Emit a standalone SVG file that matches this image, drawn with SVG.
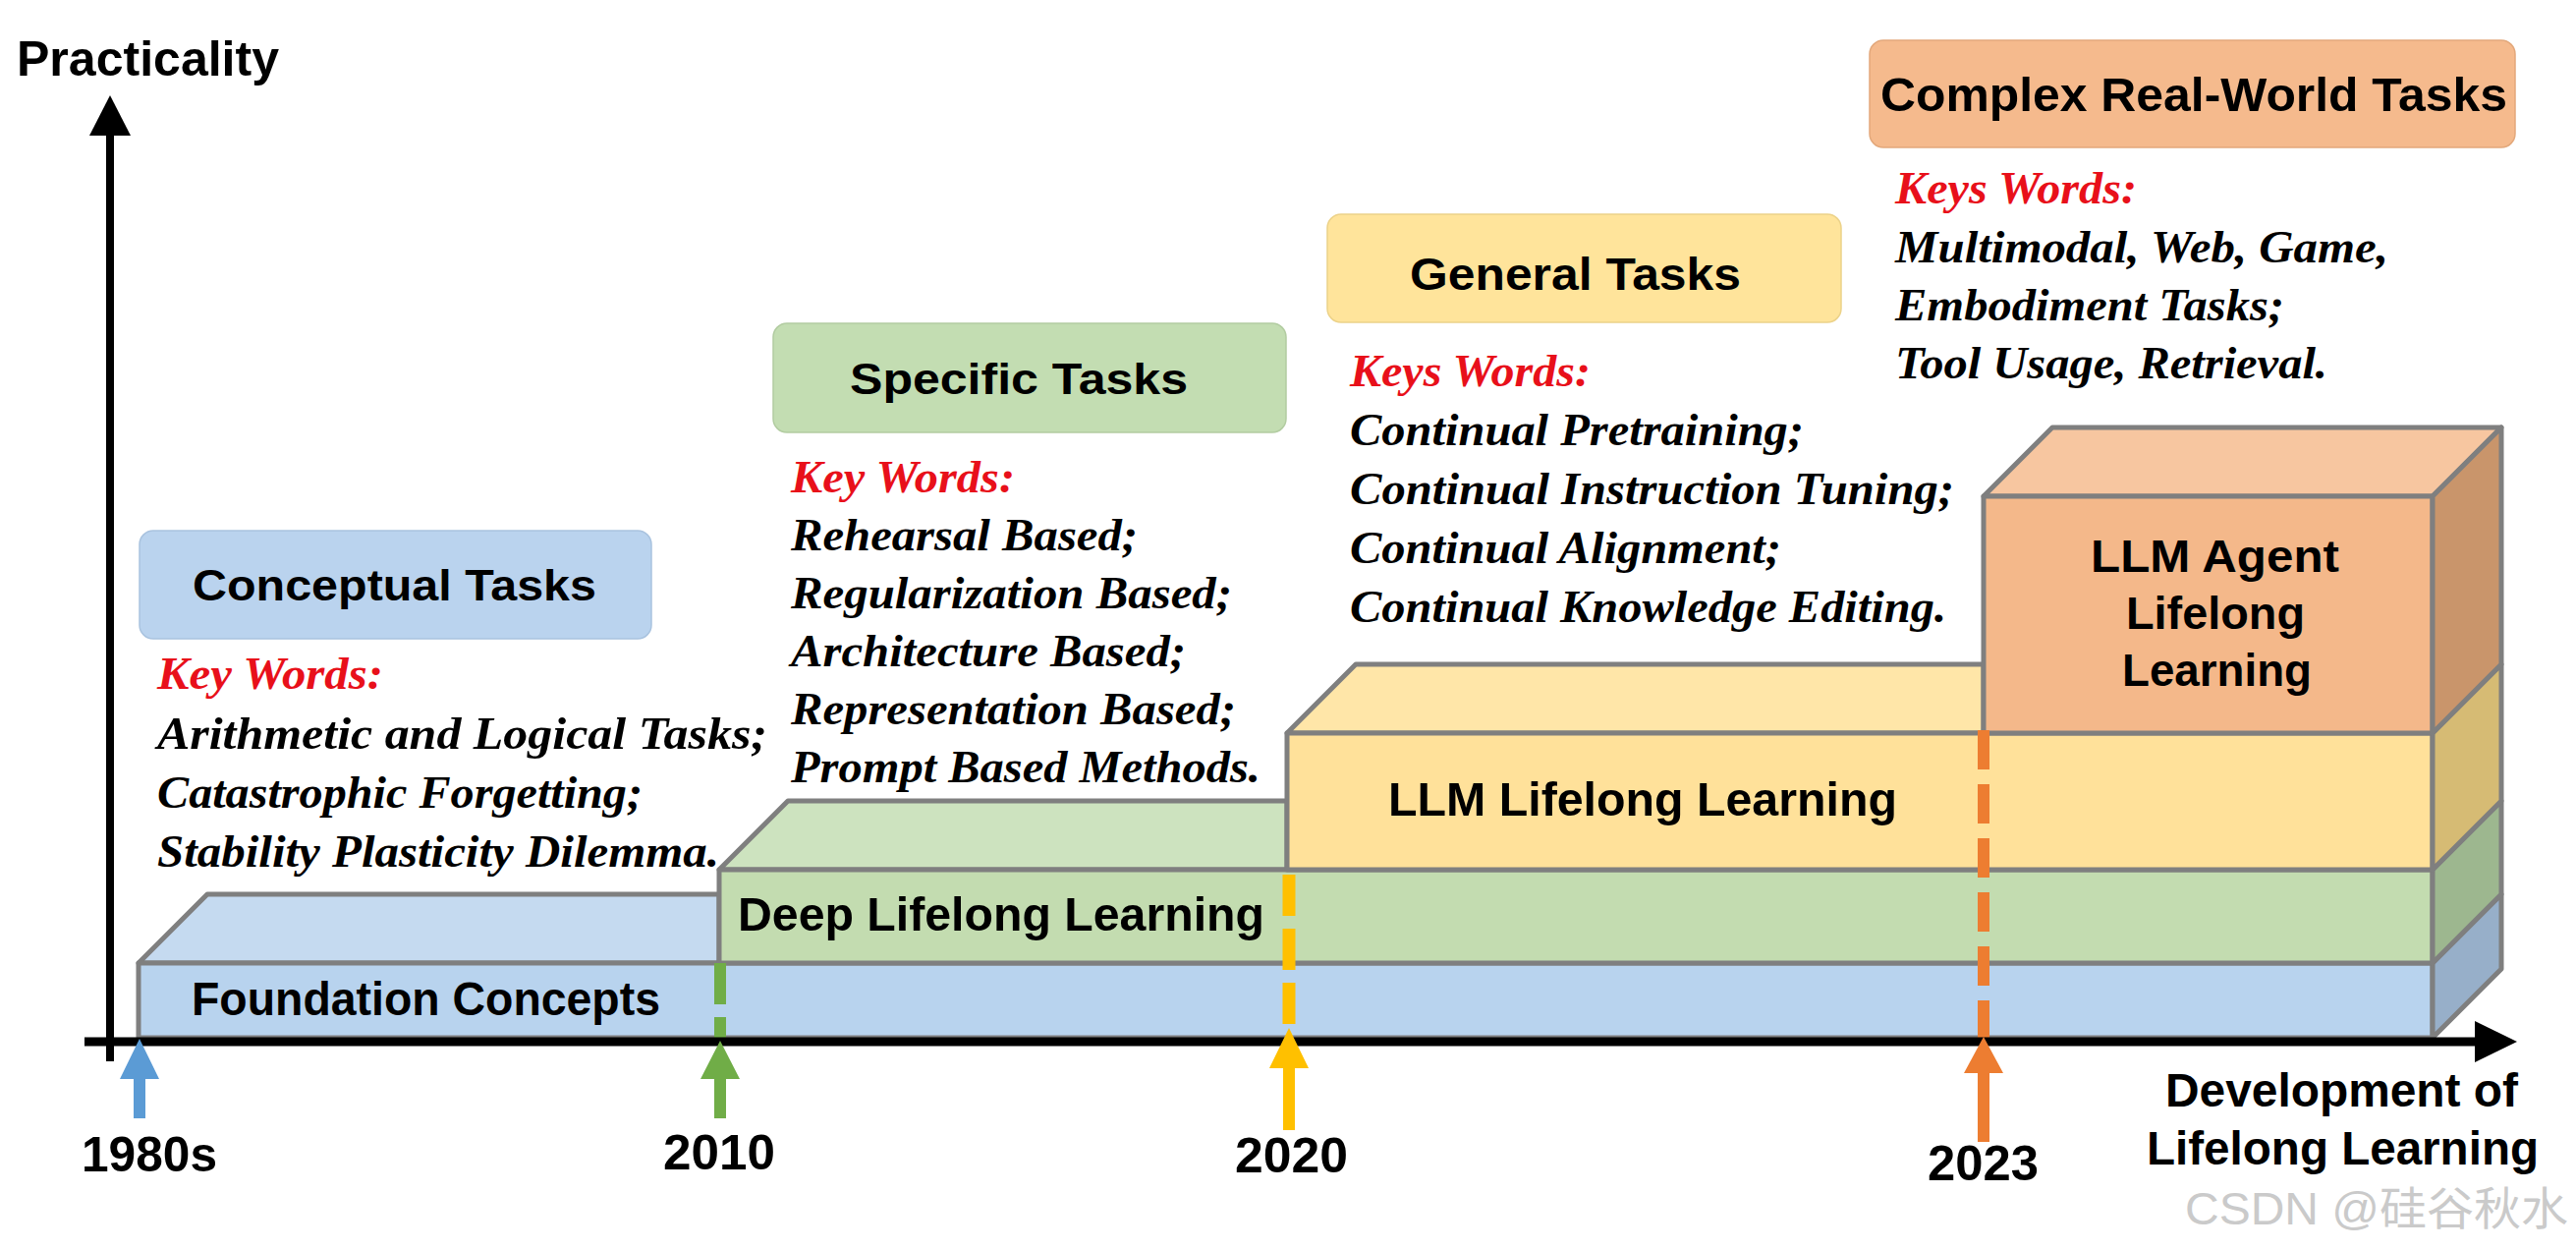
<svg xmlns="http://www.w3.org/2000/svg" width="2622" height="1272" viewBox="0 0 2622 1272">
<style>
.c{font-family:"Liberation Sans",Arial,sans-serif;font-weight:bold;fill:#000}
.k{font-family:"Liberation Serif","Times New Roman",serif;font-style:italic;font-weight:bold;font-size:47px;fill:#000}
.r{fill:#e8101a}
.e{stroke:#7f7f7f;stroke-width:5;stroke-linejoin:round}
.box{stroke-width:1.5}
</style>
<rect width="2622" height="1272" fill="#fff"/>

<g id="bars">
  <g id="foundation">
    <polygon class="e" fill="#c5daf0" points="141,980 211,910 732,910 732,980"/>
    <rect class="e" fill="#b8d3ee" x="141" y="980" width="2335" height="76"/>
    <polygon class="e" fill="#97afc9" points="2476,980 2546,910 2546,986 2476,1056"/>
    <text class="c" x="195" y="1033" font-size="48" textLength="477" lengthAdjust="spacingAndGlyphs">Foundation Concepts</text>
  </g>
  <g id="deep">
    <polygon class="e" fill="#cde3bf" points="732,885 802,815 1310,815 1310,885"/>
    <rect class="e" fill="#c3dcb0" x="732" y="885" width="1744" height="95"/>
    <polygon class="e" fill="#9db78f" points="2476,885 2546,815 2546,910 2476,980"/>
    <text class="c" x="751" y="947" font-size="48" textLength="536" lengthAdjust="spacingAndGlyphs">Deep Lifelong Learning</text>
  </g>
  <g id="llm">
    <polygon class="e" fill="#ffe6a8" points="1310,746 1380,676 2019,676 2019,746"/>
    <rect class="e" fill="#ffe19a" x="1310" y="746" width="1166" height="139"/>
    <polygon class="e" fill="#d6bb74" points="2476,746 2546,676 2546,815 2476,885"/>
    <text class="c" x="1413" y="830" font-size="48" textLength="518" lengthAdjust="spacingAndGlyphs">LLM Lifelong Learning</text>
  </g>
  <g id="agent">
    <polygon class="e" fill="#f7c6a0" points="2019,505 2089,435 2546,435 2476,505"/>
    <rect class="e" fill="#f4b88a" x="2019" y="505" width="457" height="241"/>
    <polygon class="e" fill="#c9956b" points="2476,505 2546,435 2546,676 2476,746"/>
    <text class="c" x="2128" y="582" font-size="46" textLength="253" lengthAdjust="spacingAndGlyphs">LLM Agent</text>
    <text class="c" x="2164" y="640" font-size="46" textLength="182" lengthAdjust="spacingAndGlyphs">Lifelong</text>
    <text class="c" x="2160" y="698" font-size="46" textLength="193" lengthAdjust="spacingAndGlyphs">Learning</text>
  </g>
</g>

<g id="connectors">
  <line x1="733" y1="980" x2="733" y2="1062" stroke="#70ad47" stroke-width="12" stroke-dasharray="42 13"/>
  <line x1="1312" y1="890" x2="1312" y2="1048" stroke="#ffc000" stroke-width="13" stroke-dasharray="42 13"/>
  <line x1="2019" y1="743" x2="2019" y2="1058" stroke="#ed7d31" stroke-width="12" stroke-dasharray="40 15"/>
  <g id="axes" fill="#000">
    <line x1="112" y1="1080" x2="112" y2="130" stroke="#000" stroke-width="8"/>
    <polygon points="112,97 91,138 133,138"/>
    <line x1="86" y1="1060" x2="2525" y2="1060" stroke="#000" stroke-width="9"/>
    <polygon points="2562,1060 2519,1039 2519,1081"/>
  </g>
  <path id="arrow-1980s" fill="#5b9bd5" d="M142,1057 L162,1098 L148,1098 L148,1138 L136,1138 L136,1098 L122,1098 Z"/>
  <path id="arrow-2010" fill="#70ad47" d="M733,1059 L753,1098 L739,1098 L739,1138 L727,1138 L727,1098 L713,1098 Z"/>
  <path id="arrow-2020" fill="#ffc000" d="M1312,1046 L1332,1087 L1318,1087 L1318,1150 L1306,1150 L1306,1087 L1292,1087 Z"/>
  <path id="arrow-2023" fill="#ed7d31" d="M2019,1055 L2039,1092 L2025,1092 L2025,1162 L2013,1162 L2013,1092 L1999,1092 Z"/>
</g>

<g id="axis-labels">
  <text class="c" x="17" y="77" font-size="50" textLength="267" lengthAdjust="spacingAndGlyphs">Practicality</text>
  <text class="c" x="2204" y="1126" font-size="48" textLength="359" lengthAdjust="spacingAndGlyphs">Development of</text>
  <text class="c" x="2185" y="1185" font-size="48" textLength="399" lengthAdjust="spacingAndGlyphs">Lifelong Learning</text>
</g>

<g id="years">
  <text class="c" x="83" y="1192" font-size="50" textLength="138" lengthAdjust="spacingAndGlyphs">1980s</text>
  <text class="c" x="675" y="1190" font-size="50" textLength="114" lengthAdjust="spacingAndGlyphs">2010</text>
  <text class="c" x="1257" y="1193" font-size="50" textLength="115" lengthAdjust="spacingAndGlyphs">2020</text>
  <text class="c" x="1962" y="1201" font-size="50" textLength="113" lengthAdjust="spacingAndGlyphs">2023</text>
</g>

<g id="conceptual">
  <rect class="box" x="142" y="540" width="521" height="110" rx="14" fill="#bad3ee" stroke="#a9c3df"/>
  <text class="c" x="196" y="611" font-size="44" textLength="411" lengthAdjust="spacingAndGlyphs">Conceptual Tasks</text>
  <text class="k r" x="160" y="701" textLength="230" lengthAdjust="spacingAndGlyphs">Key Words:</text>
  <text class="k" x="160" y="762" textLength="621" lengthAdjust="spacingAndGlyphs">Arithmetic and Logical Tasks;</text>
  <text class="k" x="160" y="822" textLength="494" lengthAdjust="spacingAndGlyphs">Catastrophic Forgetting;</text>
  <text class="k" x="160" y="882" textLength="572" lengthAdjust="spacingAndGlyphs">Stability Plasticity Dilemma.</text>
</g>

<g id="specific">
  <rect class="box" x="787" y="329" width="522" height="111" rx="14" fill="#c3ddb2" stroke="#b2cca1"/>
  <text class="c" x="865" y="401" font-size="44" textLength="344" lengthAdjust="spacingAndGlyphs">Specific Tasks</text>
  <text class="k r" x="805" y="501" textLength="228" lengthAdjust="spacingAndGlyphs">Key Words:</text>
  <text class="k" x="805" y="560" textLength="353" lengthAdjust="spacingAndGlyphs">Rehearsal Based;</text>
  <text class="k" x="805" y="619" textLength="449" lengthAdjust="spacingAndGlyphs">Regularization Based;</text>
  <text class="k" x="805" y="678" textLength="402" lengthAdjust="spacingAndGlyphs">Architecture Based;</text>
  <text class="k" x="805" y="737" textLength="453" lengthAdjust="spacingAndGlyphs">Representation Based;</text>
  <text class="k" x="805" y="796" textLength="478" lengthAdjust="spacingAndGlyphs">Prompt Based Methods.</text>
</g>

<g id="general">
  <rect class="box" x="1351" y="218" width="523" height="110" rx="14" fill="#ffe49b" stroke="#ecd289"/>
  <text class="c" x="1435" y="295" font-size="46" textLength="337" lengthAdjust="spacingAndGlyphs">General Tasks</text>
  <text class="k r" x="1374" y="393" textLength="245" lengthAdjust="spacingAndGlyphs">Keys Words:</text>
  <text class="k" x="1374" y="453" textLength="462" lengthAdjust="spacingAndGlyphs">Continual Pretraining;</text>
  <text class="k" x="1374" y="513" textLength="615" lengthAdjust="spacingAndGlyphs">Continual Instruction Tuning;</text>
  <text class="k" x="1374" y="573" textLength="439" lengthAdjust="spacingAndGlyphs">Continual Alignment;</text>
  <text class="k" x="1374" y="633" textLength="607" lengthAdjust="spacingAndGlyphs">Continual Knowledge Editing.</text>
</g>

<g id="complex">
  <rect class="box" x="1903" y="41" width="657" height="109" rx="14" fill="#f5ba8d" stroke="#e3a87b"/>
  <text class="c" x="1914" y="113" font-size="48" textLength="638" lengthAdjust="spacingAndGlyphs">Complex Real-World Tasks</text>
  <text class="k r" x="1929" y="207" textLength="246" lengthAdjust="spacingAndGlyphs">Keys Words:</text>
  <text class="k" x="1929" y="267" textLength="502" lengthAdjust="spacingAndGlyphs">Multimodal, Web, Game,</text>
  <text class="k" x="1929" y="326" textLength="396" lengthAdjust="spacingAndGlyphs">Embodiment Tasks;</text>
  <text class="k" x="1929" y="385" textLength="440" lengthAdjust="spacingAndGlyphs">Tool Usage, Retrieval.</text>
</g>

<text x="2224" y="1246" font-family="Liberation Sans,Noto Sans CJK SC,sans-serif" font-size="46" fill="#cacaca" textLength="390" lengthAdjust="spacingAndGlyphs">CSDN @硅谷秋水</text>
</svg>
